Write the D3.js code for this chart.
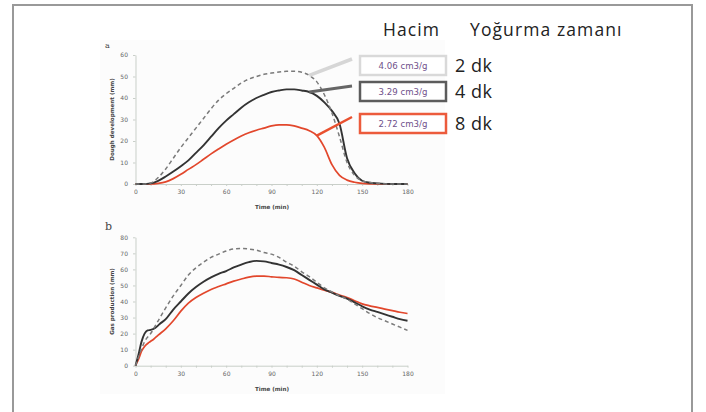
<!DOCTYPE html>
<html>
<head>
<meta charset="utf-8">
<script src="https://cdn.jsdelivr.net/npm/d3@7"></script>
<style>
    html, body { margin: 0; padding: 0; background: #fff; }
    #chart { width: 706px; height: 412px; }
    .axis { opacity: 0.99; }
    .axis path, .axis line { stroke: #c9cfc9; }
    .axis text { fill: #666; font-family: "DejaVu Sans", sans-serif; font-size: 6px; }
    .axis-title { fill: #444; font-family: "DejaVu Sans", sans-serif; font-size: 5.6px; font-weight: bold; opacity: 0.99; }
    .panel-letter { fill: #444; font-family: "DejaVu Serif", serif; }
    .head { fill: #222; font-family: "Open Sans", sans-serif; font-size: 17.5px; letter-spacing: 1.1px; }
    .box-label { fill: #6e4f8a; font-family: "DejaVu Sans", sans-serif; font-size: 8.6px; opacity: 0.99; }
</style>
</head>
<body>
<div id="chart"></div>
<script>
// time axis ticks (min)
const timeTicks = [0, 30, 60, 90, 120, 150, 180];
const doughTicks = [0, 10, 20, 30, 40, 50, 60];
const gasTicks = [0, 10, 20, 30, 40, 50, 60, 70, 80];

// a: dough development (mm) as [time, value]
const dough2dk = [[0, 0], [5, 0], [10, 0.5], [15, 3], [20, 7], [25, 12], [30, 17], [35, 21.5], [40, 26],
    [45, 30.5], [50, 35], [55, 39], [60, 42], [65, 44.5], [70, 47], [75, 48.8], [80, 50], [85, 51],
    [90, 51.6], [95, 52.1], [100, 52.4], [105, 52.5], [110, 52], [115, 50.5], [120, 47.5], [125, 41.5],
    [130, 33], [135, 22], [140, 10], [145, 4], [150, 1.5], [155, 0.7], [160, 0.3], [170, 0], [180, 0]];
const dough4dk = [[0, 0], [5, 0], [10, 0.3], [15, 1.5], [20, 3.5], [25, 5.8], [30, 8.3], [35, 11], [40, 14.5],
    [45, 18], [50, 22], [55, 26], [60, 29.5], [65, 32.5], [70, 35.5], [75, 38], [80, 40], [85, 41.5],
    [90, 42.8], [95, 43.5], [100, 44], [105, 44], [110, 43.5], [115, 42.8], [120, 41], [125, 38],
    [130, 34], [135, 28], [140, 12], [145, 5], [150, 1.5], [155, 0.6], [160, 0.3], [170, 0], [180, 0]];
const dough8dk = [[0, 0], [10, 0], [15, 0.3], [20, 1], [25, 2.5], [30, 4.5], [35, 6.8], [40, 9], [45, 11.5],
    [50, 14], [55, 16.3], [60, 18.5], [65, 20.5], [70, 22.3], [75, 23.8], [80, 25], [85, 26], [90, 27],
    [95, 27.5], [100, 27.5], [105, 27], [110, 26], [115, 24.8], [120, 22.5], [125, 17], [130, 9],
    [135, 4], [140, 1.8], [145, 0.8], [150, 0.3], [160, 0], [180, 0]];

// b: gas production (mm) as [time, value]
const gas2dk = [[0, 0], [3, 8], [6, 15], [10, 20], [15, 28], [20, 36], [25, 43.5], [30, 50], [35, 56.5],
    [40, 61], [45, 64.5], [50, 67.5], [55, 69.5], [60, 71.5], [65, 72.7], [70, 73], [75, 72.7], [80, 72],
    [85, 70.5], [90, 69.5], [95, 67.5], [100, 64.5], [105, 62], [110, 58.5], [115, 55.5], [120, 52],
    [125, 48.5], [130, 46], [135, 43.5], [140, 41.5], [145, 38.5], [150, 35.5], [155, 32.5], [160, 30],
    [165, 28], [170, 26], [175, 24], [180, 22]];
const gas4dk = [[0, 0], [2, 7], [4, 15], [6, 20], [8, 22], [10, 22.3], [13, 23.5], [16, 26], [20, 29],
    [25, 35], [30, 40], [35, 45], [40, 49], [45, 52.3], [50, 55], [55, 57.2], [60, 59], [65, 61.2],
    [70, 63], [75, 64.5], [80, 65.3], [85, 65], [90, 64], [95, 63], [100, 61.5], [105, 59.5], [110, 56.5],
    [115, 53.5], [120, 50.5], [125, 47.5], [130, 45.5], [135, 43.5], [140, 41.8], [145, 39.5], [150, 37],
    [155, 35], [160, 33.5], [165, 32], [170, 30.5], [175, 29], [180, 28]];
const gas8dk = [[0, 0], [2, 4], [4, 9], [6, 12], [9, 14.5], [12, 16.5], [15, 19], [20, 23], [25, 28],
    [30, 34], [35, 39], [40, 42.5], [45, 45.2], [50, 47.5], [55, 49.3], [60, 51], [65, 52.7], [70, 54],
    [75, 55.2], [80, 55.8], [85, 55.8], [90, 55.4], [95, 55], [100, 54.8], [105, 54], [110, 52], [115, 50],
    [120, 48.5], [125, 47], [130, 45.7], [135, 44], [140, 42.5], [145, 40.5], [150, 38.5], [155, 37.3],
    [160, 36.3], [165, 35.3], [170, 34.3], [175, 33.3], [180, 32.5]];

// legend
const legendHeader = ["Hacim", "Yoğurma zamanı"];
const volumes = ["4.06 cm3/g", "3.29 cm3/g", "2.72 cm3/g"];
const mixingTimes = ["2 dk", "4 dk", "8 dk"];
const anchorTimes = [115, 115, 120];

(function () {
    "use strict";

    const styles = [
        { stroke: "#7a7a7a", width: 1.5, dash: "4,3", box: "#d9d9d9", leader: "#d6d6d6", leaderWidth: 3.5 },
        { stroke: "#333", width: 1.9, dash: null, box: "#5c5c5c", leader: "#666", leaderWidth: 3 },
        { stroke: "#e2472c", width: 1.7, dash: null, box: "#ec5b3c", leader: "#e9502f", leaderWidth: 2.5 }
    ];

    function drawPanel(svg, opt) {
        const x = d3.scaleLinear().domain([0, 180]).range([135.5, 407.5]);
        const y = d3.scaleLinear().domain([0, opt.max]).range([opt.bottom, opt.top]);

        const xAxis = svg.append("g")
            .attr("class", "axis x-axis")
            .attr("transform", `translate(0,${opt.bottom})`)
            .call(d3.axisBottom(x)
                .tickValues(d3.range(0, 181, 10))
                .tickFormat(d => timeTicks.includes(d) ? d : "")
                .tickSize(2)
                .tickSizeOuter(0)
                .tickPadding(4));
        xAxis.selectAll(".tick line").attr("stroke", "#b8c2b8");

        svg.append("g")
            .attr("class", "axis y-axis")
            .attr("transform", "translate(135.5,0)")
            .call(d3.axisLeft(y)
                .tickValues(opt.ticks)
                .tickSize(2.5)
                .tickSizeOuter(0)
                .tickPadding(5));

        svg.append("text")
            .attr("class", "axis-title")
            .attr("x", 272)
            .attr("y", opt.bottom + 25)
            .attr("text-anchor", "middle")
            .text("Time (min)");

        const cy = (opt.top + opt.bottom) / 2;
        svg.append("text")
            .attr("class", "axis-title")
            .attr("transform", `translate(114,${cy}) rotate(-90)`)
            .attr("text-anchor", "middle")
            .text(opt.title);

        svg.append("text")
            .attr("class", "panel-letter")
            .attr("x", 105)
            .attr("y", opt.top - 7)
            .style("font-size", opt.letterSize)
            .text(opt.letter);

        const line = d3.line()
            .curve(d3.curveMonotoneX)
            .x(d => x(d[0]))
            .y(d => y(d[1]));

        // draw 8 dk first, dashed 2 dk last as in the original
        [2, 1, 0].forEach(i => {
            const s = styles[i];
            svg.append("path")
                .attr("d", line(opt.series[i]))
                .attr("fill", "none")
                .attr("stroke", s.stroke)
                .attr("stroke-width", s.width)
                .attr("stroke-dasharray", s.dash)
                .attr("stroke-linejoin", "round");
        });

        return { x, y };
    }

    function drawLegend(svg, scales) {
        const boxX = 360, boxW = 86, boxH = 19;
        const boxTops = [56, 82, 114];
        const leaderEnds = [59, 86, 117];

        svg.append("text")
            .attr("class", "head")
            .attr("x", 383)
            .attr("y", 36)
            .text(legendHeader[0]);
        svg.append("text")
            .attr("class", "head")
            .attr("x", 470)
            .attr("y", 36)
            .text(legendHeader[1]);

        const series = [dough2dk, dough4dk, dough8dk];

        volumes.forEach((v, i) => {
            const s = styles[i];
            const pt = series[i].find(d => d[0] === anchorTimes[i]);

            svg.append("line")
                .attr("x1", scales.x(pt[0]))
                .attr("y1", scales.y(pt[1]))
                .attr("x2", 352)
                .attr("y2", leaderEnds[i])
                .attr("stroke", s.leader)
                .attr("stroke-width", s.leaderWidth);

            svg.append("rect")
                .attr("x", boxX)
                .attr("y", boxTops[i])
                .attr("width", boxW)
                .attr("height", boxH)
                .attr("fill", "#fff")
                .attr("stroke", s.box)
                .attr("stroke-width", 2.5);

            svg.append("text")
                .attr("class", "box-label")
                .attr("x", boxX + boxW / 2)
                .attr("y", boxTops[i] + boxH / 2)
                .attr("dy", "0.35em")
                .attr("text-anchor", "middle")
                .text(v);

            svg.append("text")
                .attr("class", "head")
                .attr("x", 455)
                .attr("y", boxTops[i] + boxH / 2)
                .attr("dy", "0.35em")
                .style("font-size", "18px")
                .style("letter-spacing", "0.5px")
                .text(mixingTimes[i]);
        });
    }

    function drawChart(selection) {
        const svg = selection.append("svg")
            .attr("width", 706)
            .attr("height", 412);

        // outer frame (bottom edge is cut off)
        svg.append("rect")
            .attr("x", 13)
            .attr("y", 5)
            .attr("width", 679)
            .attr("height", 420)
            .attr("fill", "#fff")
            .attr("stroke", "#999")
            .attr("stroke-width", 2);

        // pasted figure background
        svg.append("rect")
            .attr("x", 100)
            .attr("y", 40)
            .attr("width", 345)
            .attr("height", 354)
            .attr("fill", "#fcfcfc");

        const top = drawPanel(svg, {
            max: 60, top: 55, bottom: 184, ticks: doughTicks,
            title: "Dough development (mm)", letter: "a", letterSize: "8px",
            series: [dough2dk, dough4dk, dough8dk]
        });

        drawPanel(svg, {
            max: 80, top: 237.3, bottom: 365.7, ticks: gasTicks,
            title: "Gas production (mm)", letter: "b", letterSize: "11px",
            series: [gas2dk, gas4dk, gas8dk]
        });

        drawLegend(svg, top);
    }

    d3.select("#chart").call(drawChart);
}());
</script>
</body>
</html>
